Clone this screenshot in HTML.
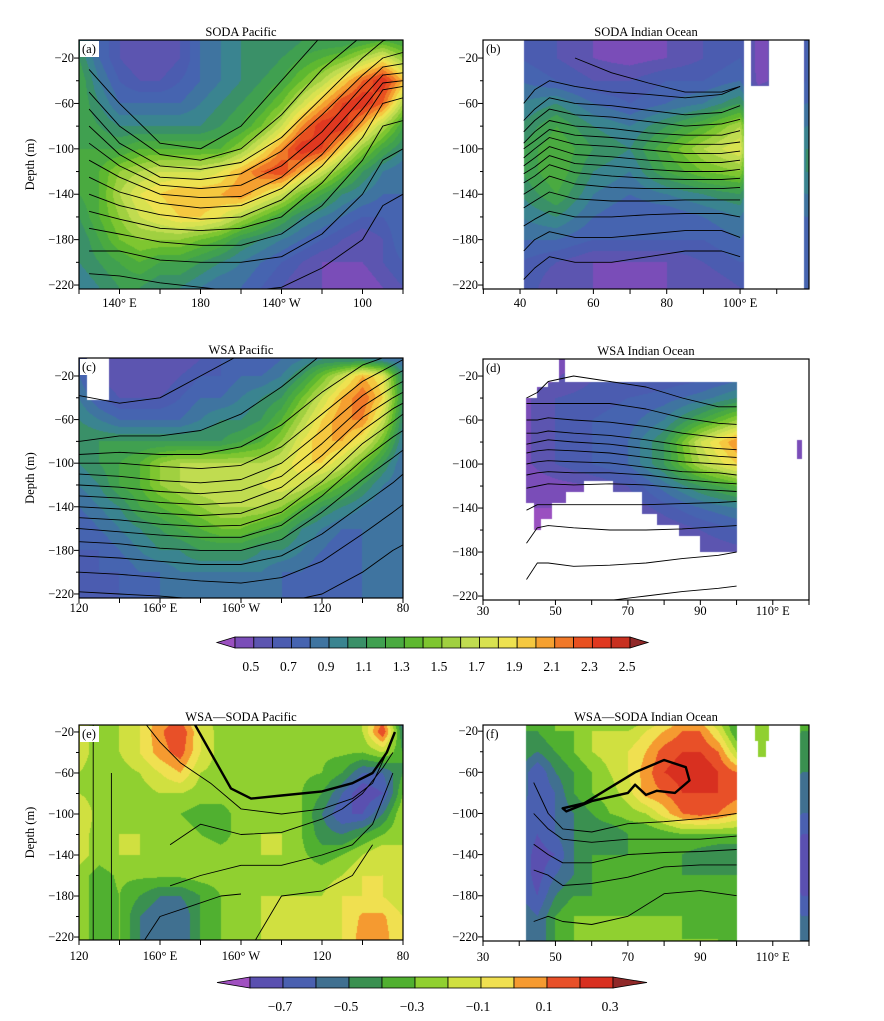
<!DOCTYPE html>
<html><head><meta charset="utf-8">
<style>
body{margin:0;background:#fff;width:884px;height:1021px;position:relative;overflow:hidden;font-family:"Liberation Serif",serif}
canvas,svg{position:absolute;left:0;top:0}
</style></head>
<body>
<canvas id="cv" width="884" height="1021"></canvas>
<svg id="sv" width="884" height="1021" xmlns="http://www.w3.org/2000/svg"></svg>
<script>
// ---------- colour scales ----------
const cb1Levels=[0.4,0.5,0.6,0.7,0.8,0.9,1.0,1.1,1.2,1.3,1.4,1.5,1.6,1.7,1.8,1.9,2.0,2.1,2.2,2.3,2.4,2.5];
const cb1Colors=["#7a4db8","#5c55b0","#4b5cb0","#4664b0","#3f74a0","#3a8490","#3a9068","#40a050","#4aaa40","#5eb830","#7ec630","#a0d040","#c0dc50","#d8e250","#eee250","#f5c840","#f5a030","#f07828","#e85020","#e03820","#c83020"];
const cb1Under="#9a50c0", cb1Over="#902828";
const cb1Labels=["0.5","0.7","0.9","1.1","1.3","1.5","1.7","1.9","2.1","2.3","2.5"];
const cb1LabelVals=[0.5,0.7,0.9,1.1,1.3,1.5,1.7,1.9,2.1,2.3,2.5];

const cb2Levels=[-0.8,-0.7,-0.6,-0.5,-0.4,-0.3,-0.2,-0.1,0.0,0.1,0.2,0.3];
const cb2Colors=["#5a50b0","#4a60b0","#407090","#3a9050","#50b030","#90d030","#d0e040","#f0e050","#f59a30","#e85028","#d83020"];
const cb2Under="#a050c0", cb2Over="#902828";
const cb2Labels=["\u22120.7","\u22120.5","\u22120.3","\u22120.1","0.1","0.3"];
const cb2LabelVals=[-0.7,-0.5,-0.3,-0.1,0.1,0.3];

// ---------- field data ----------
const pacLons=[120,130,140,150,160,170,180,190,200,210,220,230,240,250,260,270,280];
const aDepths=[-5,-20,-40,-60,-80,-100,-120,-140,-160,-180,-200,-222];
const aVals=[
[1.0,0.8,0.6,0.5,0.5,0.6,0.8,0.9,1.0,1.0,1.0,1.1,1.1,1.1,1.2,1.3,1.2],
[1.1,0.8,0.6,0.5,0.5,0.6,0.8,0.9,1.0,1.0,1.1,1.2,1.3,1.4,1.6,1.8,1.5],
[1.2,0.9,0.7,0.6,0.6,0.7,0.8,0.9,1.0,1.1,1.2,1.4,1.6,1.9,2.2,2.4,2.0],
[1.2,1.0,0.8,0.8,0.8,0.8,0.9,1.0,1.1,1.2,1.4,1.7,2.0,2.3,2.4,2.2,1.6],
[1.2,1.1,1.0,1.0,1.0,1.0,1.0,1.1,1.2,1.4,1.7,2.1,2.4,2.4,2.0,1.6,1.2],
[1.2,1.2,1.2,1.3,1.3,1.3,1.3,1.3,1.5,1.8,2.1,2.4,2.3,1.9,1.5,1.2,1.0],
[1.2,1.3,1.5,1.6,1.7,1.7,1.7,1.8,2.0,2.2,2.3,2.0,1.7,1.4,1.1,0.9,0.8],
[1.2,1.3,1.6,1.8,1.9,2.0,2.0,2.0,2.1,1.9,1.7,1.4,1.2,1.0,0.9,0.8,0.8],
[1.1,1.3,1.5,1.7,1.8,1.9,1.9,1.8,1.6,1.4,1.2,1.0,0.9,0.8,0.7,0.7,0.8],
[1.0,1.2,1.4,1.5,1.5,1.5,1.4,1.3,1.1,1.0,0.9,0.8,0.7,0.6,0.5,0.6,0.8],
[1.0,1.1,1.2,1.3,1.2,1.2,1.1,1.0,0.9,0.8,0.7,0.6,0.5,0.5,0.5,0.6,0.7],
[0.9,1.0,1.1,1.1,1.0,1.0,0.9,0.8,0.8,0.7,0.6,0.5,0.5,0.4,0.4,0.5,0.6]];

const bLons=[40,50,60,70,80,90,100,105,118];
const bDepths=[-5,-20,-40,-60,-80,-100,-120,-140,-160,-180,-200,-222];
const bVals=[
[0.7,0.6,0.5,0.4,0.5,0.6,0.7,0.45,0.7],
[0.7,0.6,0.5,0.45,0.5,0.6,0.7,0.45,0.7],
[0.8,0.7,0.6,0.6,0.7,0.7,0.8,0.45,0.7],
[0.9,1.0,0.8,0.7,0.8,0.9,1.1,0.7,0.8],
[1.0,1.2,1.0,0.9,1.1,1.3,1.6,0.7,0.9],
[1.1,1.3,1.1,1.0,1.3,1.6,1.8,0.7,1.0],
[1.1,1.3,1.0,0.9,1.2,1.4,1.5,0.7,1.0],
[1.0,1.2,0.9,0.8,0.9,1.0,1.1,0.7,0.9],
[0.9,1.0,0.8,0.7,0.7,0.8,0.9,0.7,0.8],
[0.8,0.8,0.7,0.7,0.7,0.7,0.8,0.7,0.7],
[0.7,0.6,0.5,0.5,0.5,0.6,0.7,0.7,0.7],
[0.7,0.5,0.5,0.45,0.5,0.5,0.6,0.7,0.7]];

const cDepths=[-5,-20,-40,-60,-80,-100,-120,-140,-160,-180,-200,-222];
const cVals=[
[0.7,0.6,0.5,0.5,0.5,0.5,0.6,0.7,0.7,0.7,0.8,0.9,1.0,1.0,1.0,0.9,0.8],
[0.8,0.6,0.5,0.5,0.5,0.6,0.7,0.7,0.8,0.8,0.9,1.1,1.4,1.7,2.0,1.8,1.0],
[0.9,0.7,0.6,0.6,0.6,0.7,0.8,0.8,0.9,1.0,1.1,1.4,1.7,2.0,2.2,1.9,1.1],
[1.0,0.9,0.8,0.8,0.8,0.8,0.9,1.0,1.0,1.1,1.3,1.6,1.9,2.1,2.1,1.7,1.0],
[1.1,1.1,1.1,1.1,1.1,1.1,1.1,1.1,1.2,1.3,1.5,1.8,2.0,2.0,1.8,1.4,0.9],
[1.0,1.1,1.2,1.3,1.5,1.6,1.6,1.6,1.6,1.6,1.7,1.9,1.9,1.7,1.4,1.1,0.8],
[0.9,1.0,1.2,1.3,1.5,1.6,1.7,1.7,1.7,1.7,1.8,1.7,1.5,1.3,1.1,0.9,0.8],
[0.8,0.9,1.0,1.2,1.3,1.4,1.5,1.6,1.6,1.6,1.5,1.3,1.1,1.0,0.9,0.8,0.8],
[0.7,0.8,0.9,1.0,1.1,1.2,1.3,1.4,1.4,1.3,1.2,1.0,0.9,0.8,0.8,0.8,0.8],
[0.7,0.7,0.8,0.9,1.0,1.0,1.1,1.1,1.1,1.0,1.0,0.9,0.8,0.7,0.8,0.8,0.8],
[0.6,0.7,0.7,0.8,0.8,0.9,0.9,0.9,0.9,0.9,0.8,0.8,0.7,0.7,0.8,0.8,0.8],
[0.6,0.6,0.7,0.7,0.8,0.8,0.8,0.8,0.8,0.8,0.8,0.7,0.7,0.7,0.8,0.8,0.8]];

const dLons=[40,50,60,70,80,90,100,110,120];
const dDepths=[-5,-25,-40,-60,-80,-100,-120,-140,-160,-180,-200,-222];
const dVals=[
[0.45,0.45,0.5,0.5,0.55,0.6,0.7,0.4,0.4],
[0.45,0.5,0.6,0.6,0.65,0.7,0.8,0.4,0.4],
[0.45,0.6,0.65,0.7,0.75,0.85,1.0,0.4,0.4],
[0.45,0.6,0.7,0.75,0.9,1.2,1.5,0.4,0.4],
[0.45,0.6,0.7,0.8,1.1,1.7,2.1,0.4,0.4],
[0.45,0.6,0.7,0.8,1.1,1.6,1.9,0.4,0.4],
[0.4,0.45,0.5,0.6,0.85,1.1,1.3,0.4,0.4],
[0.4,0.4,0.4,0.5,0.65,0.8,0.9,0.4,0.4],
[0.35,0.35,0.4,0.4,0.5,0.6,0.7,0.4,0.4],
[0.35,0.35,0.35,0.4,0.45,0.5,0.55,0.4,0.4],
[0.35,0.35,0.35,0.4,0.45,0.5,0.55,0.4,0.4],
[0.35,0.35,0.35,0.4,0.45,0.5,0.55,0.4,0.4]];
const dMaskPoly=[[42,-40],[45,-40],[45,-30],[48,-30],[48,-25],[100,-25],[100,-180],[90,-180],[90,-165],[84,-165],[84,-155],[78,-155],[78,-145],[74,-145],[74,-125],[66,-125],[66,-115],[58,-115],[58,-125],[53,-125],[53,-135],[49,-135],[49,-150],[46,-150],[46,-160],[44,-160],[44,-135],[42,-135]];

const eDepths=[-10,-20,-40,-60,-80,-100,-120,-140,-160,-180,-200,-222];
const eVals=[
[-0.15,-0.25,-0.2,-0.1,0.05,0.12,-0.15,-0.25,-0.25,-0.25,-0.25,-0.25,-0.25,-0.25,-0.2,0.1,-0.6],
[-0.15,-0.25,-0.2,-0.1,0.08,0.2,-0.1,-0.25,-0.25,-0.25,-0.25,-0.25,-0.25,-0.25,-0.2,0.2,-0.5],
[-0.15,-0.25,-0.2,-0.1,0.05,0.15,-0.1,-0.25,-0.25,-0.25,-0.25,-0.25,-0.28,-0.28,-0.3,-0.2,-0.4],
[-0.2,-0.25,-0.25,-0.2,-0.1,0.0,-0.2,-0.25,-0.25,-0.25,-0.25,-0.28,-0.3,-0.4,-0.6,-0.6,-0.4],
[-0.2,-0.25,-0.25,-0.25,-0.2,-0.2,-0.25,-0.25,-0.25,-0.25,-0.25,-0.3,-0.4,-0.6,-0.8,-0.7,-0.3],
[-0.1,-0.25,-0.25,-0.3,-0.3,-0.3,-0.35,-0.35,-0.25,-0.2,-0.25,-0.3,-0.5,-0.7,-0.7,-0.5,-0.2],
[-0.15,-0.25,-0.2,-0.2,-0.25,-0.25,-0.3,-0.35,-0.25,-0.2,-0.2,-0.3,-0.45,-0.5,-0.4,-0.3,-0.2],
[-0.15,-0.25,-0.2,-0.2,-0.2,-0.2,-0.2,-0.25,-0.25,-0.2,-0.2,-0.28,-0.35,-0.3,-0.2,-0.1,-0.2],
[-0.25,-0.35,-0.28,-0.28,-0.28,-0.28,-0.25,-0.25,-0.25,-0.25,-0.25,-0.25,-0.25,-0.2,-0.1,-0.1,-0.2],
[-0.25,-0.35,-0.3,-0.4,-0.5,-0.5,-0.4,-0.3,-0.25,-0.2,-0.2,-0.2,-0.2,-0.1,-0.1,-0.1,-0.2],
[-0.25,-0.35,-0.3,-0.5,-0.6,-0.6,-0.4,-0.3,-0.2,-0.2,-0.15,-0.2,-0.2,-0.1,0.02,0.02,-0.1],
[-0.25,-0.35,-0.3,-0.5,-0.6,-0.6,-0.4,-0.3,-0.25,-0.2,-0.2,-0.2,-0.2,-0.1,0.05,0.05,-0.1]];

const fLons=[40,45,50,55,60,65,70,75,80,85,90,95,100,107,118];
const fDepths=[-10,-20,-40,-60,-80,-100,-120,-140,-160,-180,-200,-222];
const fVals=[
[-0.4,-0.4,-0.3,-0.3,-0.3,-0.2,-0.3,-0.2,-0.1,0.0,0.0,-0.2,-0.4,-0.2,-0.3],
[-0.4,-0.4,-0.3,-0.3,-0.2,-0.2,-0.2,-0.1,0.0,0.1,0.1,-0.1,-0.4,-0.2,-0.4],
[-0.4,-0.5,-0.4,-0.3,-0.2,-0.15,-0.1,0.0,0.15,0.2,0.2,0.1,-0.2,-0.2,-0.5],
[-0.5,-0.7,-0.5,-0.4,-0.3,-0.2,-0.1,0.05,0.2,0.25,0.3,0.2,0.1,-0.3,-0.5],
[-0.5,-0.7,-0.6,-0.4,-0.3,-0.25,-0.15,0.05,0.1,0.2,0.2,0.2,0.15,-0.3,-0.6],
[-0.6,-0.7,-0.6,-0.5,-0.4,-0.3,-0.25,-0.2,-0.05,0.1,0.15,0.1,0.0,-0.3,-0.6],
[-0.6,-0.7,-0.6,-0.5,-0.5,-0.5,-0.4,-0.4,-0.35,-0.3,-0.3,-0.3,-0.3,-0.3,-0.7],
[-0.6,-0.75,-0.7,-0.5,-0.4,-0.4,-0.4,-0.4,-0.4,-0.4,-0.45,-0.5,-0.5,-0.3,-0.8],
[-0.6,-0.75,-0.6,-0.5,-0.4,-0.4,-0.4,-0.4,-0.4,-0.4,-0.4,-0.4,-0.4,-0.3,-0.8],
[-0.6,-0.7,-0.5,-0.4,-0.4,-0.4,-0.4,-0.4,-0.35,-0.35,-0.4,-0.4,-0.4,-0.3,-0.7],
[-0.5,-0.6,-0.4,-0.3,-0.3,-0.3,-0.3,-0.3,-0.3,-0.3,-0.35,-0.35,-0.4,-0.3,-0.6],
[-0.5,-0.6,-0.4,-0.3,-0.3,-0.3,-0.3,-0.3,-0.3,-0.3,-0.3,-0.3,-0.4,-0.3,-0.6]];

// ---------- contour data (depth of each line at given longitudes) ----------
const aCLons=[125,140,160,180,200,220,240,260,270,280];
const aCLines=[
[-30,-60,-95,-100,-80,-40,0,null,null,null],
[-50,-80,-105,-110,-100,-70,-30,0,null,null],
[-65,-95,-115,-118,-112,-90,-55,-20,-5,0],
[-80,-105,-125,-127,-122,-102,-70,-35,-20,-15],
[-95,-115,-132,-135,-132,-115,-85,-45,-28,-25],
[-110,-125,-140,-143,-142,-125,-95,-55,-35,-33],
[-125,-138,-148,-152,-150,-135,-105,-65,-42,-40],
[-140,-150,-158,-162,-160,-145,-115,-75,-48,-45],
[-155,-162,-170,-172,-170,-160,-130,-90,-60,-55],
[-170,-175,-182,-185,-185,-175,-150,-110,-80,-75],
[-190,-190,-198,-200,-200,-195,-175,-140,-110,-100],
[-210,-212,-218,-222,-226,-222,-205,-180,-150,-140]];
const bCLons=[41,44,48,55,65,75,85,95,100];
const bCLines=[
[null,null,null,-20,-33,-42,-50,-50,-45],
[-60,-48,-40,-45,-50,-52,-55,-52,-45],
[-75,-65,-55,-60,-62,-66,-70,-68,-62],
[-85,-75,-65,-70,-72,-76,-80,-78,-74],
[-95,-85,-75,-80,-82,-86,-88,-88,-84],
[-100,-93,-83,-88,-90,-93,-96,-96,-94],
[-108,-100,-90,-96,-98,-101,-104,-104,-102],
[-115,-108,-98,-105,-107,-110,-112,-112,-110],
[-122,-116,-106,-113,-115,-118,-120,-120,-118],
[-130,-124,-114,-121,-124,-126,-127,-127,-126],
[-140,-134,-124,-131,-134,-135,-135,-135,-134],
[-152,-146,-138,-144,-146,-146,-145,-145,-145],
[-168,-162,-155,-160,-160,-158,-157,-157,-160],
[-190,-180,-173,-178,-178,-175,-172,-172,-178],
[-215,-205,-195,-200,-200,-195,-190,-190,-195]];
const cCLons=[120,140,160,180,200,220,240,260,275,280];
const cCLines=[
[-38,-45,-40,-20,0,null,null,null,null,null],
[-80,-75,-75,-70,-55,-30,0,null,null,null],
[-92,-90,-92,-92,-85,-65,-35,-10,0,null],
[-100,-100,-103,-105,-102,-85,-55,-25,-10,-5],
[-110,-112,-116,-118,-115,-100,-70,-38,-20,-15],
[-120,-122,-126,-128,-125,-112,-82,-48,-30,-25],
[-130,-132,-136,-138,-136,-122,-93,-58,-40,-35],
[-140,-142,-146,-148,-146,-133,-104,-70,-50,-45],
[-150,-152,-156,-158,-157,-145,-117,-82,-62,-55],
[-160,-163,-166,-168,-168,-157,-130,-97,-76,-70],
[-172,-174,-178,-180,-180,-170,-145,-115,-95,-88],
[-185,-187,-190,-193,-193,-185,-165,-138,-118,-110],
[-200,-202,-205,-208,-210,-205,-190,-165,-145,-138],
[-218,-220,-222,-225,-228,-228,-220,-200,-180,-175]];
const dCLons=[42,45,48,55,65,75,85,95,100];
const dCLines=[
[-40,-35,-25,-20,-25,-30,-40,-48,-48],
[-45,-45,-45,-45,-45,-50,-58,-63,-64],
[-60,-60,-58,-60,-62,-66,-72,-76,-76],
[-72,-72,-70,-72,-74,-78,-83,-86,-87],
[-82,-80,-78,-80,-82,-86,-90,-93,-94],
[-90,-88,-87,-88,-90,-94,-98,-100,-101],
[-100,-98,-97,-98,-99,-103,-107,-108,-110],
[-110,-108,-107,-108,-108,-110,-114,-117,-118],
[-122,-120,-118,-119,-118,-119,-122,-124,-125],
[-142,-137,-137,-137,-137,-137,-136,-135,-134],
[-172,-158,-156,-158,-160,-160,-159,-157,-156],
[-205,-190,-190,-193,-192,-190,-186,-183,-180],
[null,null,null,null,-224,-220,-216,-213,-211]];
const eZeroLons=[175,185,195,205,220,240,255,265,272,276];
const eZeroDepths=[-5,-40,-75,-85,-82,-78,-70,-60,-40,-20];
const eCLonsSets=[[150,160,170,185,200,220,240,255,265,272],[165,180,200,220,240,250,260,270,275],[165,180,200,220,240,255,265,275],[205,220,240,255,265],[150,160,175,190,200],[127,127],[136,136]];
const eCLines=[[-5,-30,-50,-70,-95,-100,-95,-85,-70,-40],[-130,-110,-120,-118,-105,-95,-80,-55,-40],[-170,-160,-150,-150,-140,-130,-110,-60],[-230,-180,-175,-160,-130],[-230,-200,-190,-180,-178],[-10,-230],[-60,-230]];
const fZeroLons=[52,58,65,72,80,86,87,83,78,75,72,70,60,53,52];
const fZeroDepths=[-95,-90,-75,-60,-48,-55,-68,-80,-78,-82,-72,-80,-88,-98,-95];
const fCLons=[44,48,52,60,70,80,90,100];
const fCLines=[
[-70,-100,-115,-118,-110,-108,-105,-100],
[-100,-115,-125,-128,-125,-125,-125,-122],
[-130,-140,-148,-148,-140,-138,-137,-135],
[-155,-160,-170,-168,-162,-152,-150,-150],
[-205,-200,-205,-208,-200,-178,-175,-180]];

// ---------- panel geometry ----------
const P={
a:{x0:79,x1:403,y0:40,y1:289,lon0:120,lon1:280,dT:-4.1,dB:-223.5},
b:{x0:483,x1:809,y0:40,y1:289,lon0:29.9,lon1:118.8,dT:-4.1,dB:-223.5},
c:{x0:79,x1:403,y0:358,y1:598,lon0:120,lon1:280,dT:-3.5,dB:-223.7},
d:{x0:483,x1:809,y0:359,y1:600,lon0:30,lon1:120,dT:-4.5,dB:-223.6},
e:{x0:79,x1:403,y0:725,y1:940,lon0:120,lon1:280,dT:-13.2,dB:-222.9},
f:{x0:483,x1:809,y0:725,y1:941,lon0:30,lon1:120,dT:-14,dB:-224}
};
const NS="http://www.w3.org/2000/svg";
const sv=document.getElementById('sv');
function mk(tag,attrs,parent){const e=document.createElementNS(NS,tag);for(const k in attrs)e.setAttribute(k,attrs[k]);(parent||sv).appendChild(e);return e;}
function sx(p,lon){return p.x0+(lon-p.lon0)/(p.lon1-p.lon0)*(p.x1-p.x0);}
function sy(p,d){return p.y0+(d-p.dT)/(p.dB-p.dT)*(p.y1-p.y0);}
function hex(c){return [parseInt(c.substr(1,2),16),parseInt(c.substr(3,2),16),parseInt(c.substr(5,2),16)];}
function colorFor(v,lev,cols,under,over){
  v+=1e-6;
  if(v<lev[0])return under; if(v>=lev[lev.length-1])return over;
  for(let k=0;k<cols.length;k++){if(v<lev[k+1])return cols[k];}
  return over;
}
function interp(lons,deps,vals,lon,d){
  let i=0;while(i<lons.length-2&&lon>lons[i+1])i++;
  let t=(lon-lons[i])/(lons[i+1]-lons[i]);t=Math.max(0,Math.min(1,t));
  let j=0;while(j<deps.length-2&&d<deps[j+1])j++;
  let u=(d-deps[j])/(deps[j+1]-deps[j]);u=Math.max(0,Math.min(1,u));
  const a=vals[j][i],b=vals[j][i+1],c=vals[j+1][i],e=vals[j+1][i+1];
  return (a*(1-t)+b*t)*(1-u)+(c*(1-t)+e*t)*u;
}
function inPoly(poly,x,y){let ins=false;for(let i=0,j=poly.length-1;i<poly.length;j=i++){const xi=poly[i][0],yi=poly[i][1],xj=poly[j][0],yj=poly[j][1];if(((yi>y)!=(yj>y))&&(x<(xj-xi)*(y-yi)/(yj-yi)+xi))ins=!ins;}return ins;}
function inRects(rs,lon,d){for(const r of rs){if(lon>=r[0]&&lon<=r[1]&&d<=r[2]&&d>=r[3])return true;}return false;}

const ctx=document.getElementById('cv').getContext('2d');
function drawField(p,lons,deps,vals,scale,maskFn){
  const w=p.x1-p.x0,h=p.y1-p.y0;const img=ctx.createImageData(w,h);
  const cache={};
  for(let py=0;py<h;py++){const d=p.dT+(py+0.5)/h*(p.dB-p.dT);
    for(let px=0;px<w;px++){const lon=p.lon0+(px+0.5)/w*(p.lon1-p.lon0);
      const o=(py*w+px)*4;
      if(maskFn&&!maskFn(lon,d)){img.data[o+3]=0;continue;}
      const v=interp(lons,deps,vals,lon,d);
      const c=scale===1?colorFor(v,cb1Levels,cb1Colors,cb1Under,cb1Over):colorFor(v,cb2Levels,cb2Colors,cb2Under,cb2Over);
      const rgb=cache[c]||(cache[c]=hex(c));
      img.data[o]=rgb[0];img.data[o+1]=rgb[1];img.data[o+2]=rgb[2];img.data[o+3]=255;}}
  ctx.putImageData(img,p.x0,p.y0);
}
drawField(P.a,pacLons,aDepths,aVals,1,null);
drawField(P.b,bLons,bDepths,bVals,1,(lon,d)=>inRects([[41,101,0,-230],[103,108,0,-45],[117.5,120,0,-230]],lon,d));
drawField(P.c,pacLons,cDepths,cVals,1,(lon,d)=>!(lon>124&&lon<135&&d>-42));
drawField(P.d,dLons,dDepths,dVals,1,(lon,d)=>inPoly(dMaskPoly,lon,d)||inRects([[51,52.5,0,-25],[116.8,118,-78,-95]],lon,d));
drawField(P.e,pacLons,eDepths,eVals,2,null);
drawField(P.f,fLons,fDepths,fVals,2,(lon,d)=>inRects([[42,100,0,-230],[105,109,-10,-30],[106,108,-30,-45],[117.5,120,0,-230]],lon,d));

// ---------- clip paths ----------
const defs=mk('defs',{});
for(const k in P){const p=P[k];const cp=mk('clipPath',{id:'clip-'+k},defs);mk('rect',{x:p.x0,y:p.y0,width:p.x1-p.x0,height:p.y1-p.y0},cp);}

function drawLines(k,lonsOrSets,lines,width,name,closed){
  const p=P[k];const g=mk('g',{'clip-path':'url(#clip-'+k+')'});
  
  
  lines.forEach((ln,li)=>{const lons=Array.isArray(lonsOrSets[0])?lonsOrSets[li]:lonsOrSets;
    let dstr='',pen=false;
    ln.forEach((d,i)=>{if(d===null){pen=false;return;}dstr+=(pen?'L':'M')+sx(p,lons[i]).toFixed(1)+','+sy(p,d).toFixed(1)+' ';pen=true;});
    if(closed)dstr+='Z';
    const el=mk('path',{d:dstr,fill:'none',stroke:'#000','stroke-width':width,'stroke-linejoin':'round'},g);
    
    
  });
}
drawLines('a',aCLons,aCLines,0.9,'isotherm-a');
drawLines('b',bCLons,bCLines,0.9,'isotherm-b');
drawLines('c',cCLons,cCLines,0.9,'isotherm-c');
drawLines('d',dCLons,dCLines,0.9,'isotherm-d');
drawLines('e',eCLonsSets,eCLines,0.9,'diff-contour-e');
drawLines('e',eZeroLons,[eZeroDepths],2.4,'zero-contour-e');
drawLines('f',fCLons,fCLines,0.9,'diff-contour-f');
drawLines('f',fZeroLons,[fZeroDepths],2.4,'zero-contour-f',true);

// ---------- axes ----------
const titles={a:'SODA  Pacific',b:'SODA  Indian Ocean',c:'WSA  Pacific',d:'WSA  Indian Ocean',e:'WSA\u2014SODA  Pacific',f:'WSA\u2014SODA  Indian Ocean'};
const pacTicks=[120,140,160,180,200,220,240,260,280];
const aLabels=[[140,'140\u00b0 E'],[180,'180'],[220,'140\u00b0 W'],[260,'100']];
const ceLabels=[[120,'120'],[160,'160\u00b0 E'],[200,'160\u00b0 W'],[240,'120'],[280,'80']];
const indTicks=[30,40,50,60,70,80,90,100,110,120];
const bLabels=[[40,'40'],[60,'60'],[80,'80'],[100,'100\u00b0 E']];
const dfLabels=[[30,'30'],[50,'50'],[70,'70'],[90,'90'],[110,'110\u00b0 E']];
const depthTicks=[-20,-40,-60,-80,-100,-120,-140,-160,-180,-200,-220];
const xLabOff={a:18,b:18,c:14,d:15,e:20,f:20};
for(const k in P){const p=P[k];
  const g=mk('g',{});
  const fr=mk('rect',{x:p.x0,y:p.y0,width:p.x1-p.x0,height:p.y1-p.y0,fill:'none',stroke:'#000','stroke-width':1.2},g);
  
  const t=mk('text',{x:(p.x0+p.x1)/2,y:p.y0-4,'text-anchor':'middle','font-size':12.5},g);t.textContent=titles[k];
  
  const lb=mk('rect',{x:p.x0+1,y:p.y0+1,width:19,height:16,fill:'#fff'},g);
  
  const lt=mk('text',{x:p.x0+3,y:p.y0+13,'font-size':12.5},g);lt.textContent='('+k+')';
  
  const ticks=(k==='a'||k==='c'||k==='e')?pacTicks:indTicks;
  ticks.forEach(v=>{const x=sx(p,v);if(x<p.x0-0.5||x>p.x1+0.5)return;const tk=mk('line',{x1:x,x2:x,y1:p.y1,y2:p.y1+5,stroke:'#000','stroke-width':1},g);
    });
  const labs=k==='a'?aLabels:(k==='b'?bLabels:((k==='c'||k==='e')?ceLabels:dfLabels));
  labs.forEach(l=>{const tx=mk('text',{x:sx(p,l[0]),y:p.y1+xLabOff[k],'text-anchor':'middle','font-size':12.5},g);tx.textContent=l[1];
    });
  depthTicks.forEach((v,i)=>{const y=sy(p,v);const major=(i%2===0);
    const tk=mk('line',{x1:p.x0-(major?5:3),x2:p.x0,y1:y,y2:y,stroke:'#000','stroke-width':1},g);
    
    if(major){const tx=mk('text',{x:p.x0-5,y:y+4,'text-anchor':'end','font-size':12.5},g);tx.textContent='\u2212'+(-v);
      }});
  if(k==='a'||k==='c'||k==='e'){const cy=(p.y0+p.y1)/2;const yt=mk('text',{x:34,y:cy,'text-anchor':'middle','font-size':12.5,transform:'rotate(-90 34 '+cy+')'},g);yt.textContent='Depth (m)';
    }
}

// ---------- colour bars ----------
function colorbar(name,levels,cols,under,over,labels,labelVals,bx0,bx1,by0,by1,tl,tr,ly){
  const g=mk('g',{});
  const n=cols.length,w=(bx1-bx0)/n,mid=(by0+by1)/2;
  const lt=mk('path',{d:`M${bx0},${by0}L${tl},${mid}L${bx0},${by1}Z`,fill:under,stroke:'#000','stroke-width':0.8},g);
  
  cols.forEach((c,i)=>{const r=mk('rect',{x:bx0+i*w,y:by0,width:w,height:by1-by0,fill:c,stroke:'#000','stroke-width':0.8},g);
    });
  const rt=mk('path',{d:`M${bx1},${by0}L${tr},${mid}L${bx1},${by1}Z`,fill:over,stroke:'#000','stroke-width':0.8},g);
  
  const step=(levels[levels.length-1]-levels[0])/n;
  labels.forEach((l,i)=>{const x=bx0+(labelVals[i]-levels[0])/step*w-3;const t=mk('text',{x:x,y:ly,'text-anchor':'middle','font-size':13.5},g);t.textContent=l;
    });
}
colorbar('colorbar-top',cb1Levels,cb1Colors,cb1Under,cb1Over,cb1Labels,cb1LabelVals,235,630,637,648,217,648,671);
colorbar('colorbar-bottom',cb2Levels,cb2Colors,cb2Under,cb2Over,cb2Labels,cb2LabelVals,250,613,977,988,217,647,1011);
</script>
</body></html>
